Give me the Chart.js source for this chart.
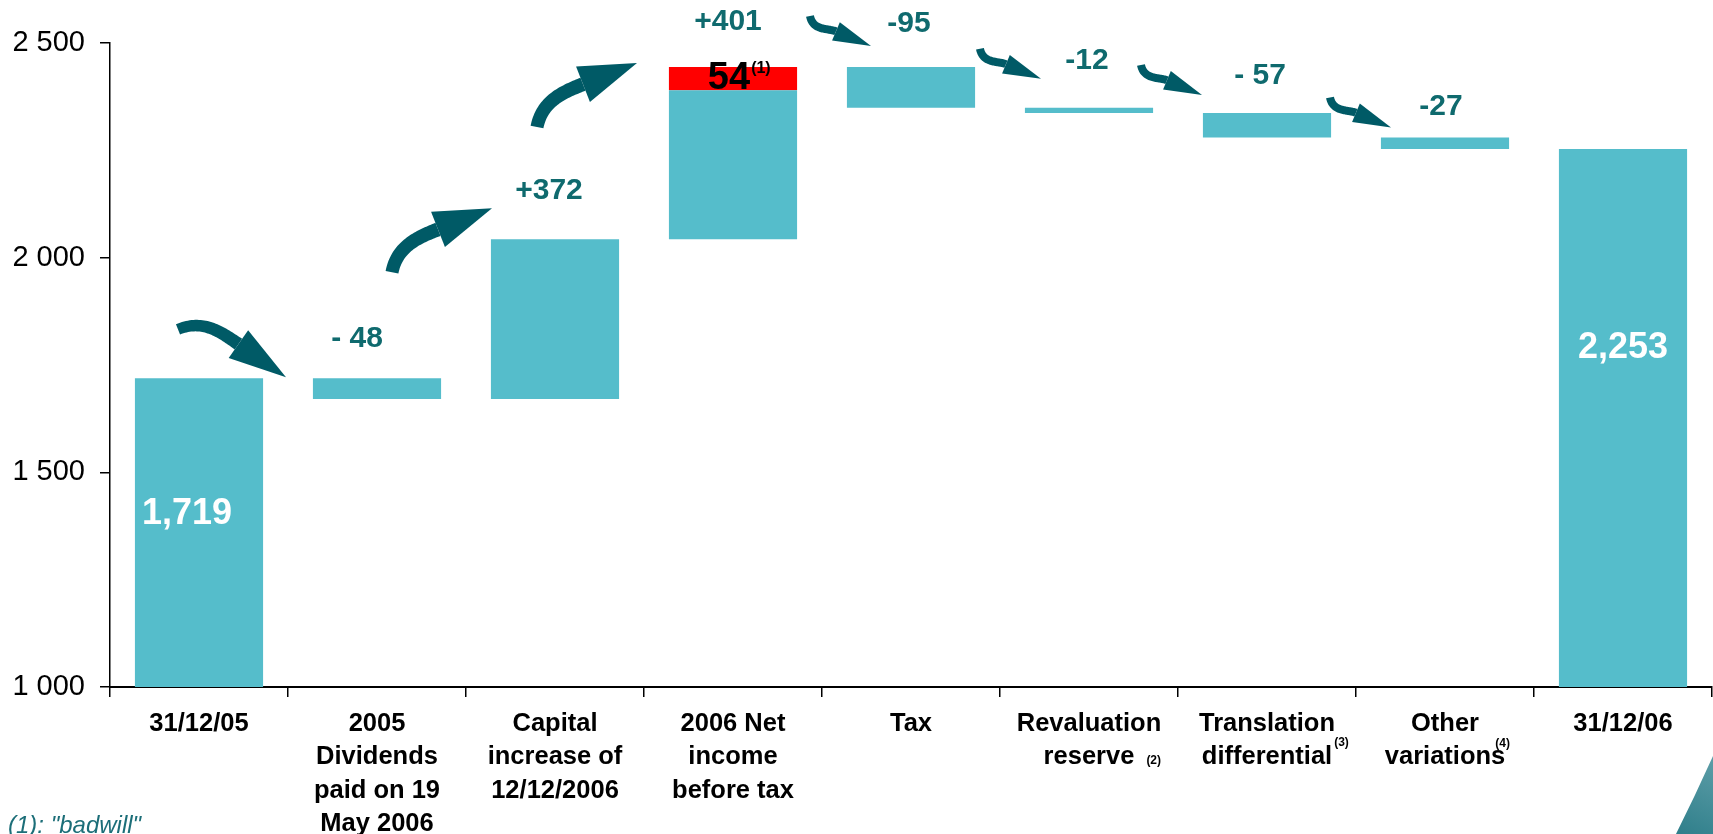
<!DOCTYPE html>
<html>
<head>
<meta charset="utf-8">
<script src="https://cdn.jsdelivr.net/npm/chart.js@4.4.1/dist/chart.umd.min.js"></script>
<style>
    html, body { margin: 0; padding: 0; background: #fff; }
    #wrap { width: 1713px; height: 834px; position: relative; }
</style>
</head>
<body>
<div id="wrap"><canvas id="myChart"></canvas></div>
<script>
var fam = '"Liberation Sans", Arial, Helvetica, sans-serif';

// data
var categories = [
    ['31/12/05'],
    ['2005', 'Dividends', 'paid on 19', 'May 2006'],
    ['Capital', 'increase of', '12/12/2006'],
    ['2006 Net', 'income', 'before tax'],
    ['Tax'],
    ['Revaluation', 'reserve'],
    ['Translation', 'differential'],
    ['Other', 'variations'],
    ['31/12/06']
];
var startValue = 1719;
var changes = [-48, 372, 401, -95, -12, -57, -27];
var endValue = 2253;
var badwill = 54;          // part of the 2006 net income, shown in red
var badwillIndex = 3;
var changeLabels = ['- 48', '+372', '+401', '-95', '-12', '- 57', '-27'];
var totalLabels = ['1,719', '2,253'];
var footMarks = ['', '', '', '', '', '(2)', '(3)', '(4)', ''];
var yTicks = [1000, 1500, 2000, 2500];
var yTickLabels = ['1 000', '1 500', '2 000', '2 500'];

var teal = '#55BDCB';
var darkTeal = '#0F6A6E';
var arrowColor = '#005A66';
var TICK_LEN = 10, TICK_PAD = 10, X_FONT = 25.5, LINE_H = 33.5;

// label placement tweaks (px): [dx, gap above bar top]
var labelNudge = [[-20, 40], [-6, 48], [-5, 45], [-2, 43], [-2, 47], [-7, 37], [-4, 31]];
// footnote mark placement on the last label line (px): [dx after word, dy]
var markNudge = { '(2)': [12, 3], '(3)': [2, -15], '(4)': [-10, -14] };

// running totals and floating bars
var levels = [startValue];
changes.forEach(function(c) { levels.push(levels[levels.length - 1] + c); });
var yMin = yTicks[0];
var tealBars = [[yMin, startValue]];
changes.forEach(function(c, i) {
    var a = levels[i], b = levels[i + 1];
    if (i + 1 === badwillIndex) b -= badwill;
    tealBars.push([a, b]);
});
tealBars.push([yMin, endValue]);
var redBars = categories.map(function(_, i) {
    return i === badwillIndex ? [levels[i] - badwill, levels[i]] : null;
});

// curved arrows between bars; tip is relative to the gap / next bar top,
// the other points are relative to the tip
var bigUp = { tail: [-100, 64], c1: [-95, 38], c2: [-74, 29], head: 58, half: 19, w0: 13, w1: 14 };
var small = { tail: [-61, -30], c1: [-58, -15], c2: [-43, -18], head: 38, half: 10, w0: 8, w1: 8 };
var arrowShapes = [
    { tip: [-2, -1], tail: [-108, -48], c1: [-83, -58], c2: [-66, -46], head: 58, half: 17, w0: 11, w1: 13 },
    Object.assign({ tip: [26, -31] }, bigUp),
    Object.assign({ tip: [-7, -4] }, bigUp),
    Object.assign({ tip: [49, -21] }, small),
    Object.assign({ tip: [41, -29] }, small),
    Object.assign({ tip: [24, -18] }, small),
    Object.assign({ tip: [35, -10] }, small)
];

function drawArrow(ctx, tip, s) {
    function P(p) { return [tip[0] + p[0], tip[1] + p[1]]; }
    var p0 = P(s.tail), c1 = P(s.c1), c2 = P(s.c2);
    var dx = tip[0] - c2[0], dy = tip[1] - c2[1];
    var len = Math.sqrt(dx * dx + dy * dy);
    dx /= len; dy /= len;
    var e = [tip[0] - dx * s.head, tip[1] - dy * s.head];
    var left = [], right = [];
    for (var k = 0; k <= 40; k++) {
        var t = k / 40, u = 1 - t;
        var px = u * u * u * p0[0] + 3 * u * u * t * c1[0] + 3 * u * t * t * c2[0] + t * t * t * e[0];
        var py = u * u * u * p0[1] + 3 * u * u * t * c1[1] + 3 * u * t * t * c2[1] + t * t * t * e[1];
        var tx = 3 * u * u * (c1[0] - p0[0]) + 6 * u * t * (c2[0] - c1[0]) + 3 * t * t * (e[0] - c2[0]);
        var ty = 3 * u * u * (c1[1] - p0[1]) + 6 * u * t * (c2[1] - c1[1]) + 3 * t * t * (e[1] - c2[1]);
        var tl = Math.sqrt(tx * tx + ty * ty) || 1;
        var nx = -ty / tl, ny = tx / tl;
        var w = (s.w0 + (s.w1 - s.w0) * t) / 2;
        left.push([px + nx * w, py + ny * w]);
        right.push([px - nx * w, py - ny * w]);
    }
    ctx.beginPath();
    ctx.moveTo(left[0][0], left[0][1]);
    left.forEach(function(p) { ctx.lineTo(p[0], p[1]); });
    right.reverse().forEach(function(p) { ctx.lineTo(p[0], p[1]); });
    ctx.closePath();
    ctx.fill();
    ctx.beginPath();
    ctx.moveTo(e[0] - dy * s.half, e[1] + dx * s.half);
    ctx.lineTo(tip[0], tip[1]);
    ctx.lineTo(e[0] + dy * s.half, e[1] - dx * s.half);
    ctx.closePath();
    ctx.fill();
}

var decorations = {
    id: 'decorations',
    afterDatasetsDraw: function(chart) {
        var ctx = chart.ctx;
        var xs = chart.scales.x, ys = chart.scales.y;
        ctx.save();

        // arrows
        ctx.fillStyle = arrowColor;
        arrowShapes.forEach(function(s, i) {
            var bx = (xs.getPixelForValue(i) + xs.getPixelForValue(i + 1)) / 2;
            var top = ys.getPixelForValue(Math.max(levels[i], levels[i + 1]));
            drawArrow(ctx, [bx + s.tip[0], top + s.tip[1]], s);
        });

        // change labels above the bars
        ctx.textAlign = 'center';
        ctx.textBaseline = 'middle';
        ctx.fillStyle = darkTeal;
        ctx.font = 'bold 30px ' + fam;
        changeLabels.forEach(function(t, i) {
            var top = ys.getPixelForValue(Math.max(levels[i], levels[i + 1]));
            ctx.fillText(t, xs.getPixelForValue(i + 1) + labelNudge[i][0], top - labelNudge[i][1]);
        });

        // totals inside the first and last bars
        ctx.fillStyle = '#fff';
        ctx.font = 'bold 36px ' + fam;
        [[0, 0.44, -12], [categories.length - 1, 0.37, 0]].forEach(function(b, k) {
            var idx = b[0];
            var yt = ys.getPixelForValue(tealBars[idx][1]);
            var yb = ys.getPixelForValue(tealBars[idx][0]);
            ctx.fillText(totalLabels[k], xs.getPixelForValue(idx) + b[2], yt + (yb - yt) * b[1]);
        });

        // badwill value on the red part
        var r = redBars[badwillIndex];
        var ry = (ys.getPixelForValue(r[0]) + ys.getPixelForValue(r[1])) / 2;
        var rx = xs.getPixelForValue(badwillIndex) - 4;
        ctx.fillStyle = '#000';
        ctx.font = 'bold 38px ' + fam;
        ctx.fillText(String(badwill), rx, ry);
        var bw = ctx.measureText(String(badwill)).width;
        ctx.font = 'bold 16px ' + fam;
        ctx.textAlign = 'left';
        ctx.fillText('(1)', rx + bw / 2 + 1, ry - 10);

        // footnote marks on the category labels
        footMarks.forEach(function(m, i) {
            if (!m) return;
            var lines = categories[i];
            var last = lines[lines.length - 1];
            var ly = xs.top + TICK_LEN + TICK_PAD + LINE_H * (lines.length - 1) + LINE_H / 2;
            ctx.font = 'bold ' + X_FONT + 'px ' + fam;
            var word = ctx.measureText(last).width;
            ctx.font = 'bold 12px ' + fam;
            var right = xs.getPixelForValue(i) + word / 2;
            ctx.fillText(m, right + markNudge[m][0], ly + markNudge[m][1]);
        });
        ctx.restore();
    },
    afterDraw: function(chart) {
        var ctx = chart.ctx, W = chart.width, H = chart.height;
        ctx.save();
        // footnote
        ctx.fillStyle = '#1C6E78';
        ctx.font = 'italic 24px ' + fam;
        ctx.textAlign = 'left';
        ctx.textBaseline = 'alphabetic';
        ctx.fillText('(1): "badwill"', 8, H - 1);
        // corner swoosh
        var g = ctx.createLinearGradient(W - 40, H, W, H - 80);
        g.addColorStop(0, '#2E7E8A');
        g.addColorStop(1, '#5E9EA8');
        ctx.fillStyle = g;
        ctx.beginPath();
        ctx.moveTo(W - 37, H);
        ctx.quadraticCurveTo(W - 18, H - 38, W, H - 78);
        ctx.lineTo(W, H);
        ctx.closePath();
        ctx.fill();
        ctx.restore();
    }
};

document.addEventListener('DOMContentLoaded', function() {
    var ctx = document.getElementById('myChart').getContext('2d');

    var myChart = new Chart(ctx, {
        type: 'bar',
        data: {
            labels: categories,
            datasets: [{
                label: 'Equity',
                data: tealBars,
                backgroundColor: teal,
                borderWidth: 0,
                grouped: false,
                categoryPercentage: 1,
                barPercentage: 0.72
            }, {
                label: 'Badwill',
                data: redBars,
                backgroundColor: '#FF0000',
                borderWidth: 0,
                grouped: false,
                categoryPercentage: 1,
                barPercentage: 0.72
            }]
        },
        options: {
            responsive: true,
            maintainAspectRatio: false,
            animation: false,
            devicePixelRatio: 1,
            layout: { padding: { top: 43, right: 1, left: 0, bottom: 0 } },
            plugins: {
                legend: { display: false },
                tooltip: { enabled: false }
            },
            scales: {
                x: {
                    grid: {
                        offset: true,
                        drawOnChartArea: false,
                        drawTicks: true,
                        tickLength: TICK_LEN,
                        color: '#000',
                        lineWidth: 1.5
                    },
                    border: { color: '#000', width: 2 },
                    ticks: {
                        color: '#000',
                        padding: TICK_PAD,
                        autoSkip: false,
                        maxRotation: 0,
                        font: { family: fam, size: X_FONT, weight: 'bold', lineHeight: LINE_H / X_FONT }
                    },
                    afterFit: function(s) { s.height = 147; }
                },
                y: {
                    min: yMin,
                    max: yTicks[yTicks.length - 1],
                    afterBuildTicks: function(s) {
                        s.ticks = yTicks.map(function(v) { return { value: v }; });
                    },
                    grid: {
                        drawOnChartArea: false,
                        drawTicks: true,
                        tickLength: TICK_LEN,
                        color: '#000',
                        lineWidth: 1.5
                    },
                    border: { color: '#000', width: 1.5 },
                    ticks: {
                        color: '#000',
                        padding: 15,
                        font: { family: fam, size: 29 },
                        callback: function(v) {
                            var i = yTicks.indexOf(v);
                            return i >= 0 ? yTickLabels[i] : '';
                        }
                    },
                    afterFit: function(s) { s.width = 110; }
                }
            }
        },
        plugins: [decorations]
    });
});
</script>
</body>
</html>
